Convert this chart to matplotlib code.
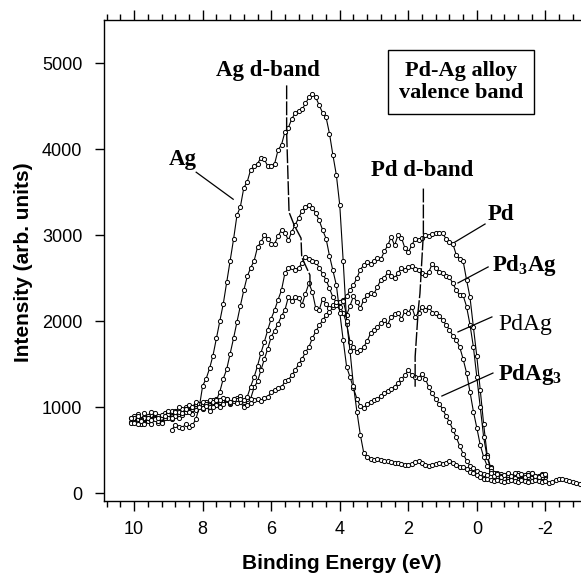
import numpy as np
import matplotlib
matplotlib.use("Agg")
import matplotlib.pyplot as plt

plt.rcParams['font.family'] = ['Liberation Sans', 'DejaVu Sans']
plt.rcParams['mathtext.fontset'] = 'custom'
plt.rcParams['mathtext.rm'] = 'Liberation Serif'
plt.rcParams['mathtext.bf'] = 'Liberation Serif:bold'
plt.rcParams['mathtext.default'] = 'regular'

# ---- data (binding energy in eV, intensity in arb. units) ----
alloy_start, alloy_step = 10.1, 0.1
ag_start, ag_step = 8.9, 0.1

pd_vals = [
    830, 900, 860, 800, 880, 840, 910, 870, 820, 880,
    930, 880, 960, 910, 870, 940, 1000, 960, 920, 990,
    1040, 990, 1060, 1020, 1080, 1050, 1000, 1060, 1100, 1040,
    1070, 1110, 1060, 1000, 1020, 1050, 1080, 1090, 1070, 1110,
    1120, 1180, 1200, 1220, 1230, 1300, 1320, 1370, 1430, 1500,
    1560, 1640, 1700, 1800, 1880, 1950, 2010, 2070, 2110, 2170,
    2190, 2220, 2250, 2290, 2360, 2420, 2500, 2600, 2650, 2690,
    2660, 2700, 2730, 2720, 2810, 2880, 2980, 2880, 3000, 2970,
    2850, 2800, 2880, 2960, 2940, 2970, 3000, 2990, 3010, 3030,
    3020, 3020, 2960, 2920, 2900, 2770, 2720, 2700, 2480, 2280,
    1930, 1590, 1200, 800, 450, 300, 230, 200, 180, 210,
    190, 170, 200, 220, 180, 200, 230, 190, 170, 200,
    180, 200]

pd3ag_vals = [
    880, 840, 920, 860, 820, 900, 950, 880, 840, 910,
    870, 940, 900, 960, 920, 980, 950, 1010, 980, 1040,
    1000, 1060, 1020, 1080, 1040, 1100, 1060, 1110, 1080, 1050,
    1100, 1080, 1130, 1060, 1090, 1100, 1230, 1300, 1430, 1560,
    1680, 1820, 1890, 1970, 2060, 2130, 2280, 2240, 2280, 2270,
    2190, 2320, 2440, 2340, 2150, 2130, 2260, 2200, 2150, 2190,
    2190, 2220, 2240, 2070, 2180, 2290, 2220, 2150, 2250, 2300,
    2330, 2320, 2400, 2480, 2500, 2570, 2530, 2500, 2560, 2620,
    2600, 2630, 2640, 2610, 2590, 2560, 2540, 2570, 2670, 2620,
    2570, 2560, 2530, 2510, 2440, 2360, 2300, 2300, 2170, 1960,
    1700, 1350, 1000, 650, 420, 290, 230, 200, 220, 190,
    220, 180, 200, 230, 190, 170, 210, 240, 200, 180,
    220, 190]

pdag_vals = [
    820, 880, 800, 850, 930, 870, 800, 860, 900, 830,
    880, 920, 860, 900, 950, 910, 980, 940, 1000, 970,
    1020, 980, 1040, 1000, 1060, 1020, 1080, 1040, 1100, 1060,
    1090, 1050, 1100, 1080, 1120, 1240, 1350, 1480, 1630, 1760,
    1900, 2030, 2130, 2250, 2360, 2560, 2620, 2630, 2600, 2620,
    2680, 2750, 2720, 2700, 2690, 2620, 2550, 2480, 2380, 2280,
    2220, 2170, 2100, 1970, 1760, 1700, 1640, 1660, 1700, 1770,
    1860, 1900, 1930, 1980, 2010, 1960, 2050, 2080, 2100, 2020,
    2120, 2090, 2170, 2050, 2100, 2160, 2130, 2170, 2100, 2090,
    2060, 2010, 1960, 1900, 1830, 1780, 1700, 1560, 1400, 1180,
    950, 760, 560, 420, 320, 260, 230, 240, 200, 180,
    210, 190, 230, 200, 170, 210, 190, 220, 180, 200,
    190, 210]

pdag3_vals = [
    870, 820, 900, 840, 800, 880, 850, 930, 870, 820,
    900, 960, 880, 940, 1000, 930, 980, 1020, 1000, 1060,
    1040, 990, 1010, 960, 1000, 1080, 1180, 1330, 1440, 1620,
    1800, 1990, 2180, 2360, 2520, 2620, 2700, 2860, 2920, 3000,
    2960, 2900, 2900, 2990, 3060, 3030, 2940, 3040, 3120, 3200,
    3280, 3330, 3350, 3310, 3260, 3170, 3060, 2960, 2760, 2590,
    2420, 2100, 1780, 1470, 1350, 1220, 1100, 1010, 990, 1040,
    1060, 1080, 1100, 1130, 1170, 1190, 1210, 1240, 1280, 1330,
    1370, 1430, 1380, 1350, 1340, 1390, 1330, 1230, 1160, 1100,
    1040, 980, 900, 830, 740, 650, 550, 460, 380, 320,
    290, 260, 240, 220, 210, 230, 200, 220, 190, 210,
    230, 200, 180, 210, 220, 190, 210, 230, 200, 190,
    210, 220]

ag_vals = [
    740, 790, 770, 760, 800, 770, 790, 860, 1000, 1250,
    1330, 1450, 1600, 1800, 2000, 2200, 2450, 2700, 2950, 3230,
    3330, 3550, 3620, 3760, 3800, 3830, 3900, 3880, 3800, 3800,
    3830, 3990, 4050, 4200, 4250, 4350, 4420, 4440, 4460, 4530,
    4600, 4640, 4600, 4510, 4420, 4370, 4180, 3930, 3700, 3350,
    2700, 2000, 1650, 1250, 950, 680, 470, 420, 400, 390,
    400, 390, 380, 370, 360, 350, 350, 340, 330, 330,
    340, 360, 375, 350, 330, 320, 330, 340, 350, 340,
    350, 370, 350, 330, 310, 300, 280, 250, 230, 210,
    190, 170, 160, 150, 140, 150, 140, 130, 140, 150,
    140, 130, 150, 140, 130, 140, 150, 140, 130, 140,
    120, 130, 150, 170, 160, 150, 140, 130, 120, 110]

# d-band guide lines (eV, intensity)
agd_x = [5.55, 5.55, 5.48, 5.33, 5.13, 5.11, 4.87, 4.87]
agd_y = [4740, 4195, 3267, 3116, 2965, 2744, 2535, 2385]
pdd_x = [1.56, 1.56, 1.66, 1.71, 1.80, 1.80]
pdd_y = [3541, 3019, 2322, 2128, 1586, 1238]

x_ticks = [10, 8, 6, 4, 2, 0, -2]
x_ticklabels = ['10', '8', '6', '4', '2', '0', '-2']
y_ticks = [0, 1000, 2000, 3000, 4000, 5000]

# ---- figure ----
fig = plt.figure(figsize=(5.81, 5.76), dpi=100)
ax = fig.add_axes([104/581, 75/576, 477/581, 481/576])

def energies(start, step, n):
    return start - step*np.arange(n)

mk = dict(color='black', lw=0.8, marker='o', ms=3.0, mfc='white',
          mec='black', mew=0.7)
ax.plot(energies(alloy_start, alloy_step, len(pd_vals)), pd_vals, **mk)
ax.plot(energies(alloy_start, alloy_step, len(pd3ag_vals)), pd3ag_vals, **mk)
ax.plot(energies(alloy_start, alloy_step, len(pdag_vals)), pdag_vals, **mk)
ax.plot(energies(alloy_start, alloy_step, len(pdag3_vals)), pdag3_vals, **mk)
ax.plot(energies(ag_start, ag_step, len(ag_vals)), ag_vals, **mk)

dash = dict(color='black', lw=1.0, linestyle=(0, (10, 1.5)))
ax.plot(agd_x, agd_y, **dash)
ax.plot(pdd_x, pdd_y, **dash)

ax.set_xlim(10.88, -3.04)
ax.set_ylim(-90, 5500)

for s in ['left', 'bottom', 'top']:
    ax.spines[s].set_linewidth(1.0)
ax.spines['right'].set_visible(False)

ax.set_xticks(x_ticks)
ax.set_xticklabels(x_ticklabels)
ax.set_xticks(np.arange(-2.8, 10.81, 0.4), minor=True)
ax.set_yticks(y_ticks)
ax.tick_params(axis='x', which='both', direction='out', top=True, bottom=True,
               labeltop=False, labelsize=13, pad=7)
ax.tick_params(axis='x', which='major', length=7.5, width=1.0)
ax.tick_params(axis='x', which='minor', length=4.5, width=1.0)
ax.tick_params(axis='y', which='major', direction='out', length=6.5, width=1.0,
               labelsize=13, pad=9, right=False)

ax.set_xlabel('Binding Energy (eV)', fontsize=15, fontweight='bold')
ax.xaxis.set_label_coords(0.499, -0.111)
ax.set_ylabel('Intensity (arb. units)', fontsize=15, fontweight='bold')
ax.yaxis.set_label_coords(-0.148, 0.497)

serif = ['Liberation Serif', 'DejaVu Serif']
lab = dict(family=serif, fontsize=16.5, fontweight='bold', color='black')
ax.text(6.11, 4845, 'Ag d-band', ha='center', va='baseline', **lab)
ax.text(8.59, 3812, 'Ag', ha='center', va='baseline', **lab)
ax.text(1.585, 3684, 'Pd d-band', ha='center', va='baseline', **lab)
ax.text(-0.33, 3173, 'Pd', ha='left', va='baseline', **lab)
ax.text(-0.44, 2581, r'Pd$\mathbf{_3}$Ag', ha='left', va='baseline', **lab)
ax.text(-0.62, 1896, 'PdAg', ha='left', va='baseline', family=serif,
        fontsize=17, fontweight='normal')
ax.text(-0.62, 1315, r'PdAg$\mathbf{_3}$', ha='left', va='baseline', **lab)

ax.text(0.467, 4779, 'Pd-Ag alloy\nvalence band', ha='center', va='center',
        multialignment='center', family=serif, fontsize=16, fontweight='bold',
        linespacing=1.15,
        bbox=dict(boxstyle='square,pad=0.5', fc='white', ec='black', lw=1.0))

lead = dict(color='black', lw=0.9)
ax.plot([8.19, 7.11], [3731, 3417], **lead)
ax.plot([-0.24, 0.64], [3129, 2919], **lead)
ax.plot([-0.33, 0.55], [2630, 2444], **lead)
ax.plot([-0.44, 0.55], [2049, 1875], **lead)
ax.plot([-0.47, 1.02], [1397, 1130], **lead)

fig.savefig('out.png', dpi=100)
